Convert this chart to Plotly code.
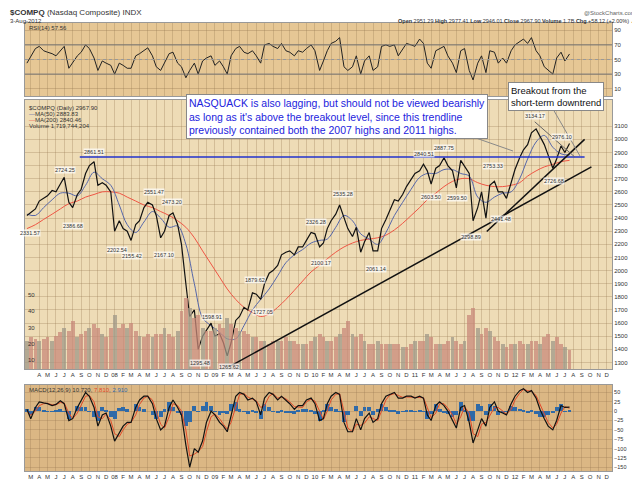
import pandas as pd
import plotly.graph_objects as go

close = [2420,2440, 2470,2530, 2550,2570, 2610,2600, 2660,2710, 2520,2480, 2580,2620, 2740,2800, 2830,2650, 2670,2650,
 2600,2300, 2380,2320, 2300,2230, 2350,2380, 2480,2520, 2500,2420, 2250,2300, 2420,2440, 2350,2200, 1900,1650, 1700,1400, 1500,1550,
 1600,1500, 1520,1450, 1350,1450, 1620,1650, 1720,1700, 1830,1820, 1780,1900, 1980,2000, 2040,2120, 2140,2150, 2120,2180, 2180,2230,
 2290,2280, 2180,2210, 2320,2380, 2430,2500, 2400,2320, 2260,2330, 2140,2220, 2290,2150, 2150,2320, 2390,2460, 2540,2530, 2580,2640,
 2700,2740, 2760,2810, 2760,2660, 2780,2800, 2860,2800, 2760,2630, 2840,2790, 2740,2380, 2480,2600, 2400,2650, 2680,2600, 2600,2550,
 2680,2770, 2860,2920, 2960,3050, 3080,3020, 2960,2880, 2780,2850, 2950,2900, 2967.9]
volume = [22,24,23,22,23,24,22,25,27,30,28,34,24,26,28,30,32,30,26,24,
 30,38,30,32,30,33,28,25,24,26,24,26,26,30,26,24,28,40,48,42,36,38,30,28,
 28,30,32,30,36,32,30,28,28,26,24,24,22,22,20,22,22,22,24,22,22,20,20,20,
 22,24,26,24,22,22,24,26,30,34,26,24,26,22,20,20,22,20,20,20,20,20,18,18,
 20,22,22,22,26,24,20,20,20,22,24,22,20,22,38,42,30,26,30,28,24,22,20,18,
 20,20,22,20,20,22,22,20,24,26,22,24,20,18,16]
ma50 = [2430,2420,2480,2540,2590,2590,2570,2650,2750,2700,
 2650,2500,2350,2290,2370,2450,2400,2330,2340,2200,1900,1640,
 1580,1530,1480,1480,1580,1700,1780,1860,1960,2060,2120,2160,
 2210,2230,2240,2330,2420,2380,2280,2240,2200,2290,2420,2520,
 2620,2710,2740,2740,2770,2770,2740,2720,2560,2520,2560,2590,
 2600,2700,2850,2980,3030,2940,2890,2880]
ma200 = [2320,2350,2390,2430,2470,2510,2530,2560,2580,2600,
 2600,2590,2560,2530,2500,2480,2450,2420,2380,2330,2250,2150,
 2050,1950,1860,1780,1720,1680,1650,1670,1720,1780,1850,1920,
 1990,2040,2090,2140,2180,2210,2230,2240,2250,2270,2310,2360,
 2420,2480,2540,2590,2640,2680,2700,2700,2670,2650,2640,2640,
 2650,2670,2720,2760,2790,2810,2830,2840]
rsi = [45,55,65,68,62,60,58,55,62,68,38,45,55,60,70,65,52,35,48,45,
 42,30,45,42,38,38,55,58,62,66,55,40,35,45,58,60,45,40,25,35,45,30,48,52,
 55,42,48,40,30,55,65,68,60,58,62,55,45,70,72,68,65,72,62,60,55,62,60,65,
 70,62,35,48,62,72,75,80,40,35,40,55,30,48,55,35,40,68,70,68,70,55,65,72,
 70,68,78,72,45,38,62,65,68,55,45,32,62,65,35,22,45,55,32,62,60,45,52,45,
 62,70,75,78,72,80,62,55,40,35,30,52,60,48,57.56]
macd = [5,-20,10,25,22,20,15,18,28,20,-25,-20,10,30,50,40,10,-40,-10,-5,
 -40,-80,-60,-40,-30,-30,10,30,40,40,20,-20,-50,-40,10,30,10,-10,-90,-150,-100,-110,-80,-30,
 0,-10,-30,-40,-55,-10,40,50,45,30,35,25,-10,35,50,45,30,40,30,20,5,15,15,30,
 35,20,-25,-20,20,40,50,45,-30,-55,-55,-20,-50,-20,-5,-30,-20,20,40,45,50,35,35,40,
 40,35,40,35,-10,-25,15,25,15,0,-25,-45,10,15,-30,-85,-50,-20,-40,10,25,0,-5,-10,
 20,40,55,60,50,55,35,5,-20,-40,-50,-25,15,10,10.72]
signal = [0,-10,0,15,20,21,17,17,23,22,-5,-20,-5,18,40,42,25,-15,-20,-8,
 -25,-60,-68,-50,-35,-30,-10,18,35,40,30,0,-35,-45,-15,20,15,0,-50,-120,-115,-108,-95,-55,
 -15,-8,-20,-35,-48,-30,15,45,47,38,32,28,10,15,40,47,35,38,33,25,12,12,10,25,
 32,27,0,-22,0,30,45,47,0,-45,-55,-35,-38,-32,-15,-20,-25,0,30,43,47,42,37,38,
 38,37,38,36,10,-18,-5,20,20,8,-10,-35,-15,12,-5,-60,-68,-35,-30,-10,10,10,0,-8,
 5,30,48,58,55,53,42,20,-5,-30,-45,-35,-5,12,7.81]
price_ticks = list(range(1300, 3200, 100))
rsi_ticks = [10, 30, 50, 70, 90]
macd_ticks = [-150, -125, -100, -75, -50, -25, 0, 25, 50]
vol_ticks = [10, 20, 30, 40, 50]
labels = [("2007-10-31",2861.51,"2861.51",6),("2007-07-19",2724.25,"2724.25",6),("2007-03-14",2331.57,"2331.57",-6),
 ("2007-08-16",2386.68,"2386.68",-6),("2008-01-22",2202.54,"2202.54",-6),("2008-03-17",2155.42,"2155.42",-6),
 ("2008-06-05",2551.47,"2551.47",6),("2008-07-15",2167.1,"2167.10",-6),("2008-08-11",2473.2,"2473.20",6),
 ("2008-11-20",1340,"1295.48",-6),("2009-01-06",1598.91,"1598.91",6),("2009-03-09",1310,"1265.62",-6),
 ("2009-06-12",1879.62,"1879.62",6),("2009-07-08",1727.05,"1727.05",-6),("2010-01-19",2326.28,"2326.28",6),
 ("2010-02-05",2100.17,"2100.17",-6),("2010-04-26",2535.28,"2535.28",6),("2010-08-27",2061.14,"2061.14",-6),
 ("2011-02-18",2840.51,"2840.51",6),("2011-03-16",2603.5,"2603.50",-6),("2011-05-02",2887.75,"2887.75",6),
 ("2011-06-16",2599.5,"2599.50",-6),("2011-08-09",2298.89,"2298.89",-6),("2011-10-27",2753.3,"2753.33",6),
 ("2011-11-25",2441.48,"2441.48",-6),("2012-03-27",3134.17,"3134.17",6),("2012-06-04",2726.68,"2726.68",-6),
 ("2012-07-03",2976.1,"2976.10",6)]

dates = pd.date_range("2007-03-01", periods=len(close), freq="SMS")
mdates = pd.date_range("2007-03-01", periods=len(ma50), freq="MS")
hist = [m - s for m, s in zip(macd, signal)]

months = pd.date_range("2007-03-01", "2012-12-01", freq="MS")
mtext = [("%02d" % (d.year % 100)) if d.month == 1 else "JFMAMJJASOND"[d.month-1] for d in months]
mvals = [d + pd.Timedelta(days=14) for d in months]

fig = go.Figure()
fig.add_trace(go.Scatter(x=dates, y=rsi, mode="lines", line=dict(color="#222", width=1), xaxis="x", yaxis="y"))
fig.add_trace(go.Bar(x=dates, y=volume, marker=dict(color=["#c98a7a" if i % 3 else "#a09888" for i in range(len(volume))], line=dict(width=0)),
                     opacity=0.75, xaxis="x2", yaxis="y5"))
fig.add_trace(go.Scatter(x=mdates, y=ma200, mode="lines", line=dict(color="#ee5544", width=1, shape="spline"), xaxis="x2", yaxis="y2"))
fig.add_trace(go.Scatter(x=mdates, y=ma50, mode="lines", line=dict(color="#5566aa", width=1, shape="spline"), xaxis="x2", yaxis="y2"))
fig.add_trace(go.Scatter(x=dates, y=close, mode="lines", line=dict(color="#111", width=1.2), xaxis="x2", yaxis="y2"))
fig.add_trace(go.Bar(x=dates, y=hist, marker=dict(color="#2f6aa8", line=dict(width=0)), xaxis="x3", yaxis="y3"))
fig.add_trace(go.Scatter(x=dates, y=signal, mode="lines", line=dict(color="#e24a2a", width=1), xaxis="x3", yaxis="y3"))
fig.add_trace(go.Scatter(x=dates, y=macd, mode="lines", line=dict(color="#111", width=1.2), xaxis="x3", yaxis="y3"))

xr = ["2007-02-22", "2013-01-03"]
axfont = dict(size=6, color="#333", family="Liberation Sans")
common_x = dict(range=xr, showgrid=True, gridcolor="rgba(150,120,80,0.3)", tickvals=mvals, ticktext=mtext,
                tickfont=axfont, ticks="", zeroline=False, showline=True, linecolor="#999", mirror=True)
L = 17; R = 36; T = 15; B = 16
H = 479 - T - B
def py(p):
    return 1 - (p - T) / H
def px(p):
    return (p - L) / (640 - L - R)
layout = dict(
    width=640, height=479, showlegend=False, paper_bgcolor="#ffffff", plot_bgcolor="#e8cd9e",
    margin=dict(l=L, r=R, t=T, b=B, autoexpand=False), bargap=0,
    xaxis=dict(common_x, domain=[0, 1], anchor="y", showticklabels=False),
    xaxis2=dict(common_x, domain=[0, 1], anchor="y2"),
    xaxis3=dict(common_x, domain=[0, 1], anchor="y3"),
    yaxis=dict(domain=[py(88), 1], range=[0, 100], side="right", tickvals=rsi_ticks, tickfont=axfont,
               gridcolor="rgba(150,120,80,0.35)", zeroline=False, showline=True, linecolor="#999", mirror=True),
    yaxis2=dict(domain=[py(361), py(92)], range=[1250, 3300], side="right", tickvals=price_ticks, tickfont=axfont,
                gridcolor="rgba(150,120,80,0.3)", zeroline=False, showline=True, linecolor="#999", mirror=True),
    yaxis5=dict(overlaying="y2", range=[4.5, 170], side="left", tickvals=vol_ticks, tickfont=axfont,
                showgrid=False, zeroline=False, anchor="x2", ticklabelposition="inside"),
    yaxis3=dict(domain=[0, py(377)], range=[-160, 70], side="right", tickvals=macd_ticks, tickfont=dict(axfont, size=5.5),
                gridcolor="rgba(150,120,80,0.3)", zeroline=False, showline=True, linecolor="#999", mirror=True),
)
fig.update_layout(**layout)

shapes = [
    dict(type="rect", xref="x domain", yref="y domain", x0=0, x1=1, y0=0, y1=1, fillcolor="#e6c795", line=dict(width=0), layer="below"),
    dict(type="rect", xref="x3 domain", yref="y3 domain", x0=0, x1=1, y0=0, y1=1, fillcolor="#dbb784", line=dict(width=0), layer="below"),
    dict(type="rect", xref="x2 domain", yref="y2 domain", x0=0, x1=1, y0=0, y1=1, fillcolor="#eedcb6", line=dict(width=0), layer="below"),
    dict(type="line", xref="x", yref="y", x0=xr[0], x1=xr[1], y0=70, y1=70, line=dict(color="#777", width=1)),
    dict(type="line", xref="x", yref="y", x0=xr[0], x1=xr[1], y0=30, y1=30, line=dict(color="#777", width=1)),
    dict(type="line", xref="x", yref="y", x0=xr[0], x1=xr[1], y0=50, y1=50, line=dict(color="#999", width=1, dash="dot")),
    dict(type="line", xref="x2", yref="y2", x0="2007-09-10", x1="2012-09-25", y0=2866, y1=2866, line=dict(color="#2233cc", width=1.5)),
    dict(type="line", xref="x2", yref="y2", x0="2009-03-09", x1="2012-10-20", y0=1268, y1=2790, line=dict(color="#111", width=1.5)),
    dict(type="line", xref="x2", yref="y2", x0="2011-10-04", x1="2012-09-25", y0=2298, y1=3000, line=dict(color="#111", width=1.5)),
    dict(type="line", xref="x2", yref="y2", x0="2012-03-27", x1="2012-08-20", y0=3134, y1=2866, line=dict(color="#666", width=1)),
    dict(type="line", xref="paper", yref="paper", x0=px(445), x1=px(505), y0=py(122), y1=py(143), line=dict(color="#888", width=1)),
    dict(type="line", xref="paper", yref="paper", x0=px(545), x1=px(572), y0=py(101), y1=py(148), line=dict(color="#888", width=1)),
]
fig.update_layout(shapes=shapes)

ann = []
def txt(x, y, t, size=7, color="#333", xa="left", **kw):
    ann.append(dict(xref="paper", yref="paper", x=x, y=y, text=t, showarrow=False, xanchor=xa, yanchor="middle",
                    font=dict(size=size, color=color, family="Liberation Sans"), **kw))
txt(px(0), py(5), "<b>$COMPQ</b> (Nasdaq Composite) INDX", size=8, color="#333")
txt(px(0), py(13), "3-Aug-2012", size=6)
txt(px(630), py(5), "@StockCharts.com", size=6, xa="right", color="#666")
txt(px(630), py(13), "<b>Open</b> 2951.29 <b>High</b> 2977.41 <b>Low</b> 2946.01 <b>Close</b> 2967.90 <b>Volume</b> 1.7B <b>Chg</b> +58.12 (+2.00%) ▲", size=5.5, xa="right")
txt(px(19), py(20), "RSI(14) 57.56", size=6)
txt(px(19), py(100), "$COMPQ (Daily) 2967.90", size=6)
txt(px(19), py(106), "<span style='color:#5566aa'>—</span>MA(50) 2883.83", size=6)
txt(px(19), py(112), "<span style='color:#ee5544'>—</span>MA(200) 2840.46", size=6)
txt(px(19), py(118), "Volume 1,719,744,204", size=6)
txt(px(19), py(382), "MACD(12,26,9) 10.720, <span style='color:#e24a2a'>7.810</span>, <span style='color:#2f6aa8'>2.910</span>", size=6)
ann.append(dict(xref="paper", yref="paper", x=px(178), y=py(108), xanchor="left", yanchor="middle", showarrow=False, align="left",
                text="NASQUACK is also lagging, but should not be viewed bearishly<br>as long as it's above the breakout level, since this trendline<br>previously contained both the 2007 highs and 2011 highs.",
                font=dict(size=10.5, color="#2222dd", family="Liberation Sans"), bgcolor="#ffffff", bordercolor="#888", borderwidth=1, borderpad=2))
ann.append(dict(xref="paper", yref="paper", x=px(500), y=py(89), xanchor="left", yanchor="middle", showarrow=False, align="left",
                text="Breakout from the<br>short-term downtrend", font=dict(size=9.5, color="#111", family="Liberation Sans"),
                bgcolor="#ffffff", bordercolor="#888", borderwidth=1, borderpad=2))
for d, v, t, s in labels:
    ann.append(dict(xref="x2", yref="y2", x=d, y=v, text=t, showarrow=False, yshift=s,
                    font=dict(size=5.5, color="#333", family="Liberation Sans"), bgcolor="rgba(255,255,255,0.7)", borderpad=0))
fig.update_layout(annotations=ann)
fig.write_html("out.html")
